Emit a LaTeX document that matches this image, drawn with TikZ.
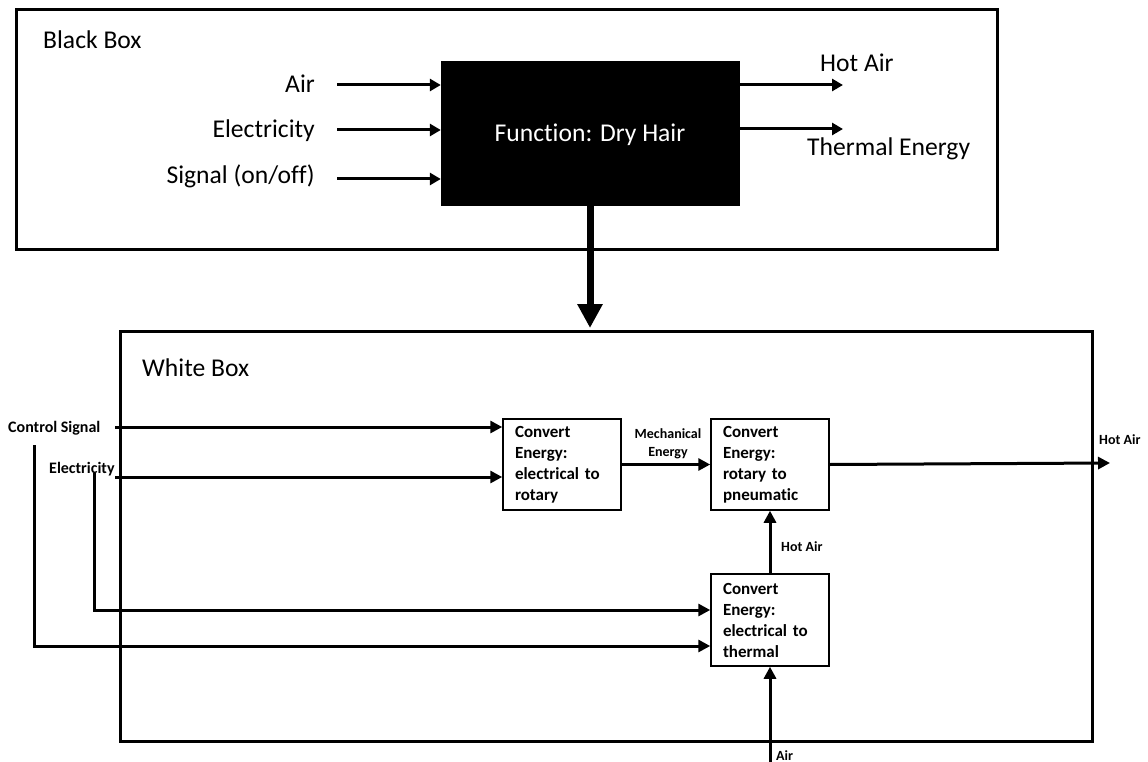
\documentclass[tikz,border=0pt]{standalone}
\usepackage{fontspec}
\setmainfont{Carlito}[Ligatures={NoCommon}]
\usetikzlibrary{arrows.meta,calc}
\newcommand\fbig{\fontsize{25.6pt}{30pt}\selectfont}
\newcommand\fsmall{\bfseries\fontsize{14pt}{18pt}\selectfont}
\newcommand\fmid{\bfseries\fontsize{16pt}{19pt}\selectfont}
\newcommand\fblk{\bfseries\fontsize{17pt}{21pt}\selectfont}
\begin{document}
\begin{tikzpicture}[x=1pt,y=-1pt,
  frame/.style={draw, line width=3pt, inner sep=0pt},
  funcbox/.style={fill=black, draw=black, inner sep=0pt, text=white, font=\fbig},
  convbox/.style={draw, line width=1.5pt, inner xsep=12pt, inner ysep=0pt, text width=94pt,
                  minimum height=91pt, align=left, font=\fblk},
  arrt/.style={line width=3pt, -{Triangle[length=11pt,width=12pt]}},
  arrw/.style={line width=3pt, -{Triangle[length=12pt,width=12pt]}},
  bigarr/.style={line width=7pt, -{Triangle[length=24pt,width=24pt]}},
  lbl/.style={inner sep=0pt, font=\fbig},
  mlbl/.style={inner sep=0pt, font=\fmid},
  slbl/.style={inner sep=0pt, font=\fsmall}]
\useasboundingbox (0,0) rectangle (1148,762);
\fill[white] (0,0) rectangle (1148,762);

% ---------- Black box ----------
\node[frame, minimum width=981pt, minimum height=239pt] (bb) at (506.5,129.5) {};
\node[funcbox, minimum width=298pt, minimum height=144pt] (fb) at (590,133) {};
\node[lbl, text=white, anchor=base] (tFn) at (590,142) {Function: Dry Hair};
\node[lbl, anchor=base west] (tBB) at (43,49) {Black Box};

\node[lbl, anchor=base east] (tAir) at (315,93) {Air};
\node[lbl, anchor=base east] (tEl) at (315,138) {Electricity};
\node[lbl, anchor=base east] (tSig) at (315,184) {Signal (on/off)};
\coordinate (sAir) at (337,85);
\coordinate (sEl) at (337,130);
\coordinate (sSig) at (337,179);
\draw[arrt] (sAir) -- (sAir -| fb.west);
\draw[arrt] (sEl) -- (sEl -| fb.west);
\draw[arrt] (sSig) -- (sSig -| fb.west);

\node[lbl, anchor=base west] (tHot) at (820,72) {Hot Air};
\node[lbl, anchor=base west] (tTh) at (807,156) {Thermal Energy};
\coordinate (eHot) at (843,85);
\coordinate (eTh) at (843,129);
\draw[arrt] (eHot -| fb.east) -- (eHot);
\draw[arrt] (eTh -| fb.east) -- (eTh);

% ---------- White box ----------
\node[frame, minimum width=972pt, minimum height=410pt] (wb) at (606,536) {};
\draw[bigarr] (fb.south) -- ($(fb.south |- wb.north)+(0,-1.5)$);
\node[lbl, anchor=base west] (tWB) at (142,376) {White Box};

\node[convbox] (b1) at (562,464.5) {Convert\\Energy:\\electrical to\\rotary};
\node[convbox] (b2) at (770,464.5) {Convert\\Energy:\\rotary to\\pneumatic};
\node[convbox, minimum height=92pt] (b3) at (770,620) {Convert\\Energy:\\electrical to\\thermal};

\node[mlbl, anchor=base west] (tCS) at (8,432) {Control Signal};
\node[mlbl, anchor=base west] (tEl2) at (49,473) {Electricity};

\coordinate (csS) at (115,427);
\coordinate (elS) at (115,477);
\draw[arrw] (csS) -- (csS -| b1.west);
\draw[arrw] (elS) -- (elS -| b1.west);

\coordinate (elV) at (94,473);
\coordinate (elC) at (94,610);
\draw[arrw] (elV) -- (elC) -- (elC -| b3.west);
\coordinate (csV) at (34,445);
\coordinate (csC) at (34,646);
\draw[arrw] (csV) -- (csC) -- (csC -| b3.west);

\draw[arrw] (b1.east) -- (b2.west);
\node[slbl, align=center] (tME) at (668,444) {Mechanical\\Energy};

\coordinate (hotOut) at (1110,463);
\draw[arrw] (b2.east) -- (hotOut);
\node[slbl, anchor=base west] (tHA1) at (1099,444) {Hot Air};

\draw[arrw] (b3.north) -- (b2.south);
\node[slbl, anchor=base west] (tHA2) at (781,551) {Hot Air};

\coordinate (airIn) at (770,762);
\draw[arrw] (airIn) -- (b3.south);
\node[slbl, anchor=base west] (tAir2) at (776,760) {Air};
\end{tikzpicture}
\end{document}
